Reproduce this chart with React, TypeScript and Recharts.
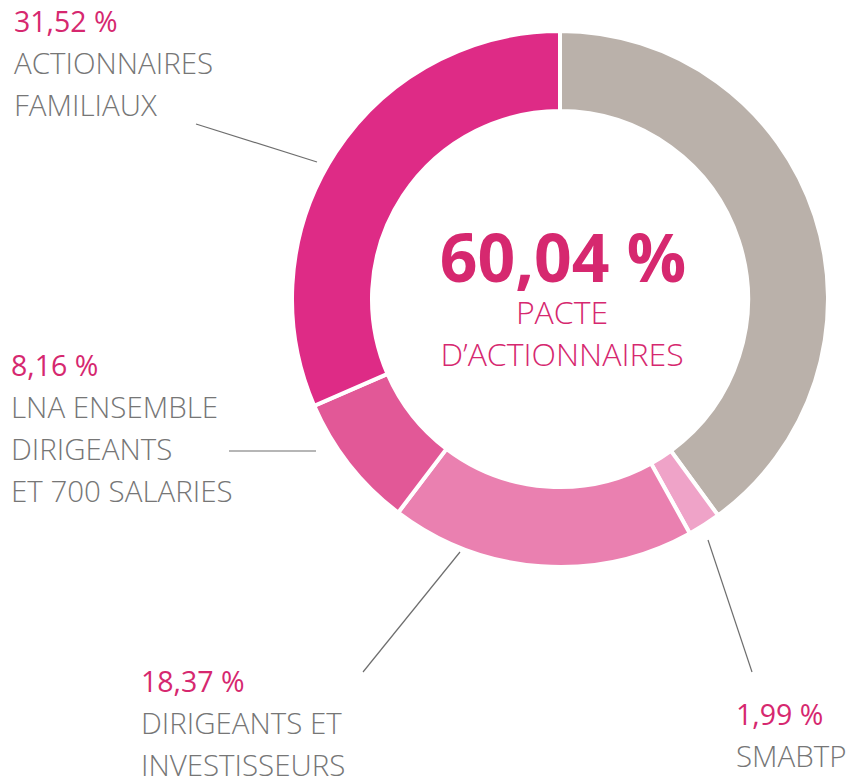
import { PieChart, Pie, Cell } from "recharts";

const names = [
  "AUTRES",
  "SMABTP",
  "DIRIGEANTS ET INVESTISSEURS",
  "LNA ENSEMBLE DIRIGEANTS ET 700 SALARIES",
  "ACTIONNAIRES FAMILIAUX",
];
const values = [39.96, 1.99, 18.37, 8.16, 31.52];
const valueLabels = ["", "1,99 %", "18,37 %", "8,16 %", "31,52 %"];
const labelLines = [
  [],
  ["SMABTP"],
  ["DIRIGEANTS ET", "INVESTISSEURS"],
  ["LNA ENSEMBLE", "DIRIGEANTS", "ET 700 SALARIES"],
  ["ACTIONNAIRES", "FAMILIAUX"],
];
const colors = ["#BAB1AA", "#EFA3C8", "#EA80B0", "#E25897", "#DE2B86"];
const pactTotal = "60,04 %";
const pactLines = ["PACTE", "D\u2019ACTIONNAIRES"];

const data = names.map((name, i) => ({
  name,
  value: values[i],
  valueLabel: valueLabels[i],
  lines: labelLines[i],
}));

// annotation layout: text anchor (x, first baseline) and leader line
const layout: Record<number, { x: number; y: number; line: number[] }> = {
  1: { x: 736, y: 725, line: [708, 540, 752, 672] },
  2: { x: 141, y: 692, line: [460, 552, 363, 672] },
  3: { x: 11, y: 376, line: [316, 451, 229, 451] },
  4: { x: 14, y: 32, line: [317, 162, 196, 124] },
};

const PINK = "#D6286F";
const GREY = "#767676";
const FONT = "'Open Sans', sans-serif";
const STEP = 42;

const renderLabel = (props: any) => {
  const { index, cx, cy } = props;
  if (index === 0) {
    return (
      <g key="center">
        <text x={cx + 3} y={cy - 17} textAnchor="middle" fill={PINK} fontFamily={FONT} fontWeight={700} fontSize={66}>
          {pactTotal}
        </text>
        {pactLines.map((t, k) => (
          <text key={k} x={cx + 2} y={cy + 25 + k * STEP} textAnchor="middle" fill={PINK} fontFamily={FONT} fontWeight={300} fontSize={32}>
            {t}
          </text>
        ))}
      </g>
    );
  }
  const l = layout[index];
  const d = data[index];
  return (
    <g key={`lab-${index}`}>
      <line x1={l.line[0]} y1={l.line[1]} x2={l.line[2]} y2={l.line[3]} stroke="#6E6E6E" strokeWidth={1.2} />
      <text x={l.x} y={l.y} fill={PINK} fontFamily={FONT} fontWeight={400} fontSize={28.5}>
        {d.valueLabel}
      </text>
      {d.lines.map((t, k) => (
        <text key={k} x={l.x} y={l.y + (k + 1) * STEP} fill={GREY} fontFamily={FONT} fontWeight={300} fontSize={29.5}>
          {t}
        </text>
      ))}
    </g>
  );
};

export default function App() {
  return (
    <div style={{ position: "absolute", left: 0, top: 0, width: 851, height: 781, background: "#fff" }}>
      <PieChart width={851} height={781} margin={{ top: 0, right: 0, bottom: 0, left: 0 }}>
        <Pie
          data={data}
          dataKey="value"
          nameKey="name"
          cx={560}
          cy={299}
          innerRadius={188}
          outerRadius={268}
          startAngle={90}
          endAngle={-270}
          stroke="#fff"
          strokeWidth={4}
          label={renderLabel}
          labelLine={false}
          isAnimationActive={false}
        >
          {data.map((d, i) => (
            <Cell key={d.name} fill={colors[i]} />
          ))}
        </Pie>
      </PieChart>
    </div>
  );
}
